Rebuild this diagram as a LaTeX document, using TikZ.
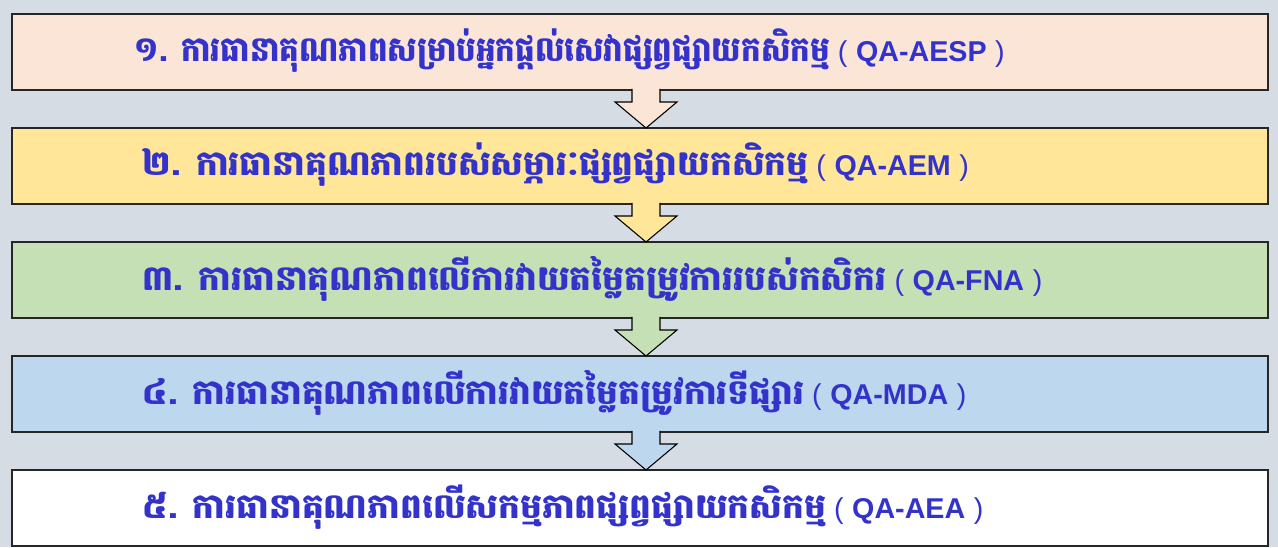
\documentclass[tikz,border=0pt]{standalone}
\usepackage{graphicx}
\usepackage{fontspec}
\setmainfont{Liberation Sans}
\newfontfamily\khmer[Script=Khmer]{Battambang}
\usetikzlibrary{positioning}
\definecolor{bgcol}{RGB}{214,220,228}
\definecolor{txtblue}{RGB}{51,51,204}
\definecolor{peach}{RGB}{251,229,214}
\definecolor{sand}{RGB}{255,230,153}
\definecolor{sage}{RGB}{197,224,180}
\definecolor{sky}{RGB}{189,215,238}
\tikzset{
  stage/.style={draw=black!85,line width=1.1pt,minimum width=942pt,minimum height=57pt,
    inner sep=0pt,outer sep=0pt},
  stagetext/.style={text=txtblue,anchor=base west,inner sep=0pt,font=\fontsize{21.5}{26}\selectfont},
  flowarrow/.style={draw=black,line width=0.8pt,line join=miter}
}
\newcommand{\km}[1]{{\khmer\bfseries\fontsize{25.8}{30}\selectfont #1}}
\newcommand{\qa}[1]{\ (\hspace{0.3em}\textbf{#1}\hspace{0.3em})}
\begin{document}
\begin{tikzpicture}[x=0.75pt,y=0.75pt,node distance=28.5pt]
  \fill[bgcol] (0,0) rectangle (1278,547);
  \useasboundingbox (0,0) rectangle (1278,547);
  \node[stage,fill=peach] (b1) at (640,495) {};
  \node[stage,fill=sand,below=of b1] (b2) {};
  \node[stage,fill=sage,below=of b2] (b3) {};
  \node[stage,fill=sky,below=of b3] (b4) {};
  \node[stage,fill=white,below=of b4] (b5) {};
  \node[stagetext] (t1) at ([shift={(92pt,-7.5pt)}]b1.west) {\scalebox{0.9}[1]{\km{១. ការធានាគុណភាពសម្រាប់អ្នកផ្តល់សេវាផ្សព្វផ្សាយកសិកម្ម}}\qa{QA-AESP}};
  \node[stagetext] (t2) at ([shift={(98pt,-7.5pt)}]b2.west) {\km{២. ការធានាគុណភាពរបស់សម្ភារៈផ្សព្វផ្សាយកសិកម្ម}\qa{QA-AEM}};
  \node[stagetext] (t3) at ([shift={(98pt,-7.5pt)}]b3.west) {\km{៣. ការធានាគុណភាពលើការវាយតម្លៃតម្រូវការរបស់កសិករ}\qa{QA-FNA}};
  \node[stagetext] (t4) at ([shift={(98pt,-7.5pt)}]b4.west) {\km{៤. ការធានាគុណភាពលើការវាយតម្លៃតម្រូវការទីផ្សារ}\qa{QA-MDA}};
  \node[stagetext] (t5) at ([shift={(98pt,-7.5pt)}]b5.west) {\km{៥. ការធានាគុណភាពលើសកម្មភាពផ្សព្វផ្សាយកសិកម្ម}\qa{QA-AEA}};
  % block arrows between the stages
  \foreach \u/\v/\c in {b1/b2/peach,b2/b3/sand,b3/b4/sage,b4/b5/sky}{
    \coordinate (a) at ([xshift=4.5pt]\u.south);
    \coordinate (z) at ([xshift=4.5pt]\v.north);
    \filldraw[flowarrow,fill=\c] ([shift={(-10.5pt,0.9pt)}]a) -- ([shift={(-10.5pt,-9pt)}]a)
      -- ([shift={(-23.25pt,-9pt)}]a) -- (z) -- ([shift={(23.25pt,-9pt)}]a)
      -- ([shift={(10.5pt,-9pt)}]a) -- ([shift={(10.5pt,0.9pt)}]a);
  }
\end{tikzpicture}
\end{document}
